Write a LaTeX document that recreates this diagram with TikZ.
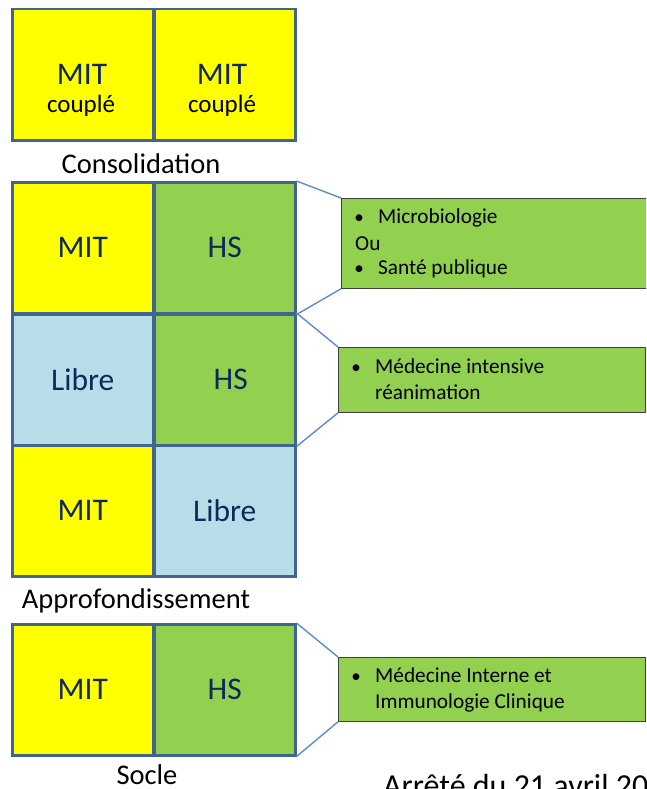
\documentclass[tikz,border=0pt]{standalone}
\usepackage{fontspec}
\setmainfont{Carlito}
\definecolor{cellborder}{RGB}{65,100,145}
\definecolor{navy}{RGB}{16,40,92}
\definecolor{myyellow}{RGB}{255,255,0}
\definecolor{mygreen}{RGB}{146,208,80}
\definecolor{myblue}{RGB}{183,221,232}
\definecolor{linkblue}{RGB}{91,141,204}
\tikzset{
  cell/.style={draw=cellborder, line width=2.5pt, minimum width=141pt, minimum height=131pt,
    inner sep=0pt, anchor=north west, text=navy, font=\fontsize{31.5}{34}\selectfont},
  callout/.style={draw=black!75, line width=0.8pt, fill=mygreen, anchor=north west, inner sep=0pt},
  link/.style={draw=linkblue, line width=1.4pt},
  ctext/.style={anchor=base west, inner sep=0pt, font=\fontsize{21.3}{24}\selectfont},
  bul/.style={anchor=base, inner sep=0pt, font=\fontsize{19}{22}\selectfont},
  lbl/.style={anchor=base, inner sep=0pt, font=\fontsize{28.5}{32}\selectfont},
}
\begin{document}
\begin{tikzpicture}[x=1pt, y=-1pt]
\useasboundingbox (0,0) rectangle (646,789);
\clip (0,0) rectangle (646,789);
% top (couplé)
\node[cell, fill=myyellow] (t1) at (11,8) {};
\node[cell, fill=myyellow] (t2) at (153,8) {};
\node[anchor=base, inner sep=0pt, text=navy, font=\fontsize{31.5}{34}\selectfont] (t1a) at (82,85) {MIT};
\node[anchor=base, inner sep=0pt, font=\fontsize{25}{28}\selectfont] (t1b) at (81,113) {couplé};
\node[anchor=base, inner sep=0pt, text=navy, font=\fontsize{31.5}{34}\selectfont] (t2a) at (222,85) {MIT};
\node[anchor=base, inner sep=0pt, font=\fontsize{25}{28}\selectfont] (t2b) at (222,113) {couplé};
\node[lbl] (lcons) at (141,173) {Consolidation};
% approfondissement
\node[cell, fill=myyellow] (a1l) at (11,181) {MIT};
\node[cell, fill=mygreen] (a1r) at (153,181) {HS};
\node[cell, fill=myblue] (a2l) at (11,313) {Libre};
\node[cell, fill=mygreen] (a2r) at (153,313) {\hspace*{12pt}HS};
\node[cell, fill=myyellow] (a3l) at (11,444) {MIT};
\node[cell, fill=myblue] (a3r) at (153,444) {Libre};
\node[lbl] (lappr) at (136,608) {Approfondissement};
% socle
\node[cell, fill=myyellow] (s1l) at (11,623) {MIT};
\node[cell, fill=mygreen] (s1r) at (153,623) {HS};
\node[lbl] (lsoc) at (147,784) {Socle};
% callouts
\node[callout, minimum width=306pt, minimum height=90pt] (c1) at (341,198) {};
\node[callout, minimum width=307pt, minimum height=65pt] (c2) at (338,347) {};
\node[callout, minimum width=307pt, minimum height=64pt] (c3) at (338,657) {};
\draw[link] (a1r.north east) -- (c1.north west);
\draw[link] (c1.south west) -- (a1r.south east);
\draw[link] (a2r.north east) -- (c2.north west);
\draw[link] (c2.south west) -- (a2r.south east);
\draw[link] (s1r.north east) -- (c3.north west);
\draw[link] (c3.south west) -- (s1r.south east);
% callout texts
\node[bul] (b1) at (359,223) {•};
\node[ctext] (c1a) at (378,223) {Microbiologie};
\node[ctext] (c1b) at (355,250) {Ou};
\node[bul] (b2) at (359,274) {•};
\node[ctext] (c1c) at (378,274) {Santé publique};
\node[bul] (b3) at (356,373) {•};
\node[ctext] (c2a) at (375,373) {Médecine intensive};
\node[ctext] (c2b) at (375,399) {réanimation};
\node[bul] (b4) at (356,682) {•};
\node[ctext] (c3a) at (375,682) {Médecine Interne et};
\node[ctext] (c3b) at (375,708) {Immunologie Clinique};
% bottom reference
\node[anchor=base west, inner sep=0pt, font=\fontsize{32}{35}\selectfont] (arr) at (383,796) {Arrêté du 21 avril 20};
\end{tikzpicture}
\end{document}
